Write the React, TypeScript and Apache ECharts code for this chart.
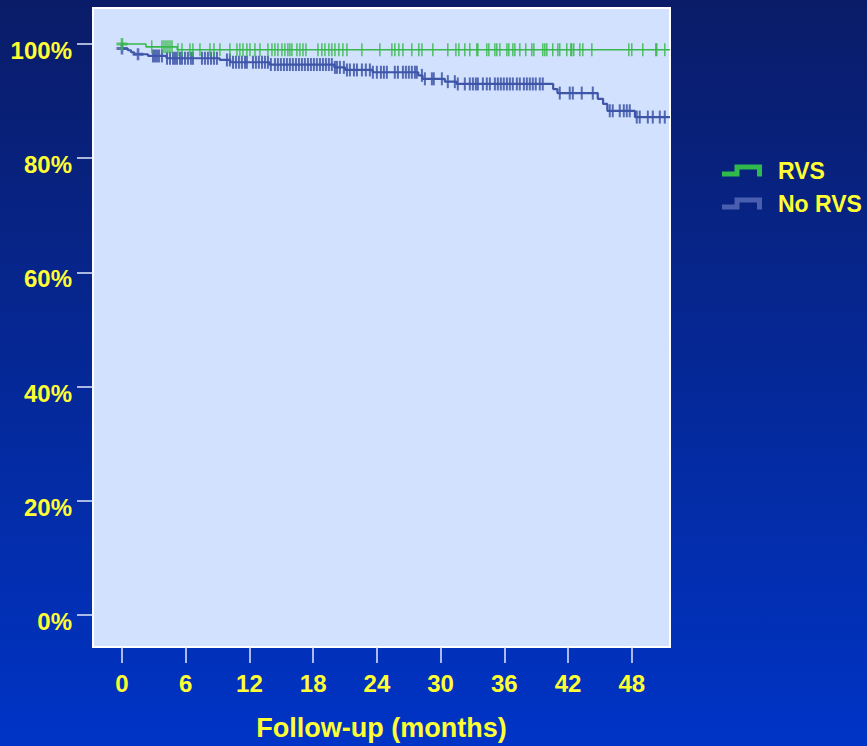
import React, { useEffect, useRef } from 'react';
import * as echarts from 'echarts';

// ---- axes ----
const xTicks = [0, 6, 12, 18, 24, 30, 36, 42, 48];
const yTicks = [0, 20, 40, 60, 80, 100];
const xTitle = 'Follow-up (months)';

// ---- RVS (green) Kaplan-Meier steps ----
const rvsTimes = [0, 2.26, 5.2, 51.6];
const rvsSurv = [100, 99.5, 99.0, 99.0];
const rvsCross = [0];
const rvsCensor = [
  2.8, 3.76, 3.95, 4.14, 4.33, 4.52, 4.71, 5.27, 5.65, 6.4, 6.68, 7.34, 8.28, 8.66, 9.22,
  10.16, 10.82, 11.1, 11.39, 11.76, 12.05, 12.52, 12.99, 13.74, 14.12, 14.4, 14.68, 15.06,
  15.34, 15.62, 15.81, 16.0, 16.47, 16.75, 17.04, 17.32, 18.45, 18.82, 19.11, 19.48, 19.76,
  20.05, 20.42, 20.8, 21.18, 22.59, 24.28, 25.41, 25.69, 26.07, 26.45, 27.29, 27.95, 28.24,
  29.27, 30.68, 31.44, 31.72, 32.28, 32.75, 33.41, 33.51, 34.35, 34.54, 35.11, 35.29, 35.58,
  36.24, 36.42, 36.8, 36.99, 37.46, 38.02, 38.59, 38.78, 39.62, 39.81, 40.0, 40.56, 41.04,
  41.22, 41.88, 42.26, 42.35, 42.54, 43.11, 43.39, 44.24, 47.72, 48.0, 49.04, 50.26, 50.35,
  51.11,
];

// ---- No RVS (blue) Kaplan-Meier steps ----
const noRvsTimes = [
  0, 0.55, 0.85, 1.15, 2.45, 4.2, 9.2, 10.2, 13.9, 20.0, 21.0, 23.6, 27.9, 28.3, 30.4, 31.5,
  40.6, 41.0, 44.8, 45.3, 45.7, 48.3, 51.6,
];
const noRvsSurv = [
  99.2, 98.9, 98.55, 98.2, 97.9, 97.5, 97.2, 96.8, 96.4, 95.9, 95.45, 95.05, 94.5, 93.9, 93.4,
  93.0, 92.1, 91.4, 90.4, 89.5, 88.3, 87.2, 87.2,
];
const noRvsCross = [0, 1.51];
const noRvsCensor = [
  2.92, 3.11, 3.29, 3.48, 3.76, 4.24, 4.52, 4.8, 4.99, 5.18, 5.46, 5.65, 5.93, 6.21, 6.49,
  6.68, 7.53, 7.81, 8.09, 8.38, 8.66, 8.94, 9.88, 10.16, 10.45, 10.73, 11.01, 11.29, 11.58,
  11.76, 12.33, 12.61, 12.89, 13.18, 13.46, 13.74, 14.02, 14.4, 14.68, 14.96, 15.25, 15.53,
  15.81, 16.09, 16.38, 16.66, 16.94, 17.22, 17.51, 17.79, 18.07, 18.35, 18.64, 18.92, 19.2,
  19.48, 19.76, 20.05, 20.24, 20.52, 20.89, 21.18, 21.46, 21.84, 22.12, 22.59, 22.96, 23.34,
  23.62, 24.0, 24.38, 24.66, 24.94, 25.69, 25.98, 26.45, 26.73, 27.01, 27.29, 27.58, 27.76,
  28.24, 28.52, 29.18, 29.36, 30.12, 30.68, 31.34, 31.62, 32.28, 32.75, 33.04, 33.32, 33.51,
  33.98, 34.35, 34.64, 35.11, 35.39, 35.67, 35.95, 36.24, 36.52, 36.8, 37.18, 37.46, 37.84,
  38.12, 38.4, 38.68, 38.96, 39.34, 39.62, 41.22, 42.16, 42.45, 43.29, 44.33, 45.93, 46.21,
  46.87, 47.25, 47.53, 47.81, 48.47, 48.75, 49.51, 49.98, 50.64, 51.11,
];

// ---- colours ----
const GREEN = '#36b84a';
const BLUE = '#3e55a8';
const YELLOW = '#ffff33';
const FONT = '"Liberation Sans", Arial, sans-serif';

const survAt = (times: number[], surv: number[], t: number) => {
  let v = surv[0];
  for (let i = 0; i < times.length; i++) if (times[i] <= t) v = surv[i];
  return v;
};
const pts = (times: number[], surv: number[]) => times.map((t, i) => [t, surv[i]]);
const marks = (list: number[], times: number[], surv: number[]) =>
  list.map((t) => [t, survAt(times, surv, t)]);

const PLUS = 'path://M4,0H6.5V4H10.5V6.5H6.5V10.5H4V6.5H0V4H4Z';
const STEP_ICON = 'path://M0,7L12.5,7L12.5,0L40,0L40,12L35,12L35,5L17.5,5L17.5,12L0,12Z';

export default function App() {
  const ref = useRef<HTMLDivElement>(null);
  useEffect(() => {
    const chart = echarts.init(ref.current!, null, { renderer: 'svg' });
    const option: any = {
      animation: false,
      backgroundColor: {
        type: 'linear', x: 0, y: 0, x2: 0, y2: 1,
        colorStops: [
          { offset: 0, color: '#0a1c68' },
          { offset: 1, color: '#0034c6' },
        ],
      },
      grid: {
        left: 93, top: 8, width: 577, height: 640,
        show: true, backgroundColor: '#d2e1fd', borderColor: '#ffffff', borderWidth: 2,
      },
      legend: {
        orient: 'vertical', left: 717, top: 154,
        itemWidth: 40, itemHeight: 12, itemGap: 10,
        icon: STEP_ICON,
        textStyle: { color: YELLOW, fontSize: 23, fontWeight: 'bold', fontFamily: FONT, padding: [0, 0, 0, 11] },
        data: [
          { name: 'RVS', itemStyle: { color: '#2fba4b', borderWidth: 0 } },
          { name: 'No RVS', itemStyle: { color: '#4a5eb0', borderWidth: 0 } },
        ],
        selectedMode: false,
      },
      xAxis: {
        type: 'value', min: -2.73, max: 51.6,
        axisLine: { show: false, onZero: false },
        splitLine: { show: false },
        axisTick: { show: true, length: 16, customValues: xTicks, lineStyle: { color: '#e2e9fb', width: 1.5 } },
        axisLabel: {
          customValues: xTicks, color: YELLOW, fontSize: 24, fontWeight: 'bold', fontFamily: FONT, margin: 24,
        },
        name: xTitle, nameLocation: 'middle', nameGap: 67,
        nameTextStyle: { color: YELLOW, fontSize: 27, fontWeight: 'bold', fontFamily: FONT },
      },
      yAxis: {
        type: 'value', min: -5.6, max: 106.3,
        axisLine: { show: false, onZero: false },
        splitLine: { show: false },
        axisTick: { show: true, length: 16, customValues: yTicks, lineStyle: { color: '#e2e9fb', width: 1.5 } },
        axisLabel: {
          customValues: yTicks, formatter: (v: number) => `${v}%`,
          color: YELLOW, fontSize: 24, fontWeight: 'bold', fontFamily: FONT, margin: 21,
          verticalAlign: 'top', lineHeight: 13,
        },
      },
      series: [
        {
          name: 'No RVS', type: 'line', step: 'end', symbol: 'none', showSymbol: false,
          data: pts(noRvsTimes, noRvsSurv), lineStyle: { color: BLUE, width: 2.2 }, itemStyle: { color: BLUE },
          z: 2,
        },
        {
          name: 'No RVS censored', type: 'scatter', symbol: 'rect', symbolSize: [2, 13],
          data: marks(noRvsCensor, noRvsTimes, noRvsSurv), itemStyle: { color: BLUE, opacity: 0.85 }, z: 3,
        },
        {
          name: 'No RVS cross', type: 'scatter', symbol: PLUS, symbolSize: [11, 12],
          data: marks(noRvsCross, noRvsTimes, noRvsSurv), itemStyle: { color: BLUE }, z: 3,
        },
        {
          name: 'RVS', type: 'line', step: 'end', symbol: 'none', showSymbol: false,
          data: pts(rvsTimes, rvsSurv), lineStyle: { color: GREEN, width: 1.6 }, itemStyle: { color: GREEN },
          z: 4,
        },
        {
          name: 'RVS censored', type: 'scatter', symbol: 'rect', symbolSize: [1.5, 13],
          data: marks(rvsCensor, rvsTimes, rvsSurv), itemStyle: { color: GREEN, opacity: 0.85 }, z: 5,
        },
        {
          name: 'RVS cross', type: 'scatter', symbol: PLUS, symbolSize: [11, 12],
          data: marks(rvsCross, rvsTimes, rvsSurv), itemStyle: { color: GREEN }, z: 5,
        },
      ],
    };
    chart.setOption(option);
    return () => chart.dispose();
  }, []);
  return <div ref={ref} style={{ position: 'fixed', left: 0, top: 0, width: 867, height: 746 }} />;
}
